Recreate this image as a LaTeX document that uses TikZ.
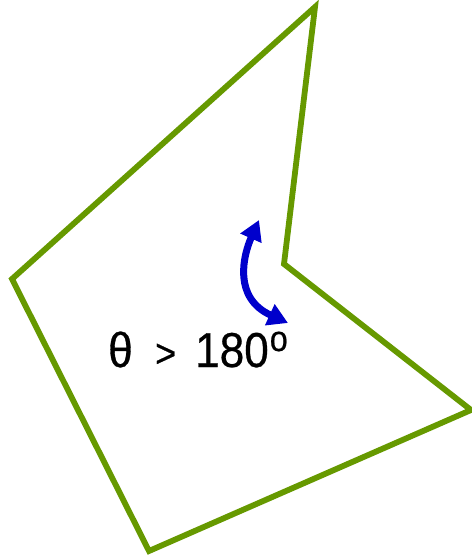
\documentclass[tikz,border=0pt]{standalone}
\usepackage{fontspec}
\newfontfamily\lblfont[FakeStretch=0.9,FakeBold=0.6]{Liberation Sans}
\usetikzlibrary{arrows.meta}
\definecolor{polygreen}{RGB}{102,153,0}
\definecolor{arrowblue}{RGB}{0,0,204}
\tikzset{
  polyline/.style={draw=polygreen, line width=5.8pt, line join=miter},
  anglearrow/.style={draw=arrowblue, line width=7pt, {Triangle[length=20pt,width=22pt]}-{Triangle[length=20pt,width=22pt]}},
  lbl/.style={font=\lblfont\fontsize{49pt}{52pt}\selectfont, inner sep=0pt, text=black, anchor=base west}
}
\begin{document}
\begin{tikzpicture}[x=1pt,y=-1pt]
\useasboundingbox (0,0) rectangle (471,556);
\coordinate (top) at (315,7);
\coordinate (notch) at (284,264);
\coordinate (right) at (471,410);
\coordinate (bottom) at (149,551);
\coordinate (left) at (12,279);
\draw[polyline] (top) -- (notch) -- (right) -- (bottom) -- (left) -- cycle;
\coordinate (a1) at (259,220);
\coordinate (a2) at (288,323);
\draw[anglearrow] (a1) .. controls (243,256) and (233,298) .. (a2);
\node[lbl] (theta) at (108,367) {θ};
\node[lbl, font=\lblfont\fontsize{40pt}{42pt}\selectfont] (gt) at (155,367) {>};
\node[lbl] (deg) at (195,367) {180\hspace{1pt}\raisebox{16pt}{\fontsize{36pt}{38pt}\selectfont o}};
\end{tikzpicture}
\end{document}
